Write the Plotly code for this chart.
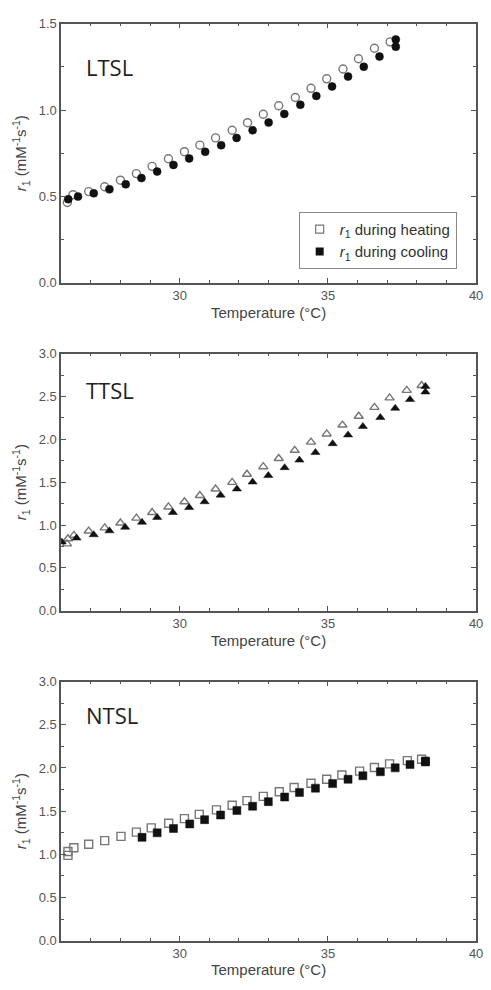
import plotly.graph_objects as go

# ---------------- data ----------------
ltsl_heat_T = [26.21, 26.4, 26.93, 27.47, 28.0, 28.54, 29.07, 29.62, 30.16, 30.68, 31.21, 31.77,
               32.29, 32.82, 33.34, 33.9, 34.43, 34.96, 35.51, 36.03, 36.57, 37.1]
ltsl_heat_r = [0.465, 0.51, 0.528, 0.556, 0.594, 0.632, 0.674, 0.718, 0.759, 0.797, 0.839, 0.883,
               0.927, 0.976, 1.025, 1.073, 1.126, 1.181, 1.238, 1.297, 1.358, 1.395]
ltsl_cool_T = [37.29, 37.29, 36.74, 36.21, 35.68, 35.14, 34.61, 34.07, 33.53, 33.0, 32.46, 31.92,
               31.4, 30.86, 30.32, 29.79, 29.24, 28.71, 28.18, 27.63, 27.1, 26.57, 26.24]
ltsl_cool_r = [1.409, 1.367, 1.31, 1.251, 1.194, 1.137, 1.082, 1.031, 0.978, 0.928, 0.883, 0.839,
               0.796, 0.758, 0.72, 0.682, 0.644, 0.606, 0.57, 0.541, 0.518, 0.499, 0.484]

ttsl_heat_T = [26.2, 26.23, 26.43, 26.93, 27.47, 28.0, 28.54, 29.07, 29.62, 30.16, 30.68, 31.21,
               31.77, 32.27, 32.82, 33.34, 33.88, 34.43, 34.96, 35.49, 36.04, 36.57, 37.08, 37.66, 38.16]
ttsl_heat_r = [0.78, 0.84, 0.88, 0.93, 0.967, 1.024, 1.081, 1.146, 1.211, 1.272, 1.345, 1.421,
               1.498, 1.593, 1.681, 1.777, 1.872, 1.968, 2.063, 2.167, 2.27, 2.373, 2.484, 2.572, 2.629]
ttsl_cool_T = [38.29, 38.29, 37.77, 37.27, 36.77, 36.18, 35.68, 35.16, 34.58, 34.04, 33.54, 32.99,
               32.46, 31.93, 31.38, 30.84, 30.32, 29.77, 29.24, 28.73, 28.16, 27.63, 27.1, 26.52, 26.02]
ttsl_cool_r = [2.618, 2.553, 2.465, 2.362, 2.255, 2.151, 2.052, 1.949, 1.846, 1.758, 1.67, 1.578,
               1.502, 1.421, 1.349, 1.272, 1.204, 1.146, 1.089, 1.032, 0.974, 0.932, 0.887, 0.848, 0.802]

ntsl_heat_T = [26.23, 26.23, 26.43, 26.93, 27.47, 28.02, 28.54, 29.04, 29.63, 30.16, 30.66, 31.24,
               31.77, 32.27, 32.82, 33.36, 33.86, 34.43, 34.96, 35.47, 36.07, 36.57, 37.08, 37.68, 38.16]
ntsl_heat_r = [0.987, 1.033, 1.075, 1.117, 1.158, 1.208, 1.257, 1.306, 1.36, 1.413, 1.462, 1.515,
               1.568, 1.622, 1.671, 1.724, 1.774, 1.823, 1.869, 1.918, 1.963, 2.005, 2.047, 2.085, 2.1]
ntsl_cool_T = [38.29, 38.29, 37.77, 37.27, 36.77, 36.18, 35.68, 35.16, 34.58, 34.04, 33.54, 32.99,
               32.46, 31.93, 31.38, 30.84, 30.34, 29.79, 29.24, 28.73]
ntsl_cool_r = [2.081, 2.07, 2.039, 2.001, 1.956, 1.91, 1.869, 1.819, 1.766, 1.717, 1.663, 1.61,
               1.557, 1.508, 1.455, 1.401, 1.352, 1.299, 1.249, 1.196]

panel_names = ["LTSL", "TTSL", "NTSL"]
legend_labels = ["<i>r</i><sub>1</sub> during heating", "<i>r</i><sub>1</sub> during cooling"]
x_title = "Temperature (°C)"
y_title = "<i>r</i><sub>1</sub> (mM<sup>-1</sup>s<sup>-1</sup>)"

# ---------------- figure ----------------
W, H = 491, 990
fig = go.Figure()

panels = [
    (ltsl_heat_T, ltsl_heat_r, ltsl_cool_T, ltsl_cool_r, "circle", [0, 1.5], (17, 280), 61),
    (ttsl_heat_T, ttsl_heat_r, ttsl_cool_T, ttsl_cool_r, "triangle-up", [0, 3.0], (352, 613), 389),
    (ntsl_heat_T, ntsl_heat_r, ntsl_cool_T, ntsl_cool_r, "square", [0, 3.0], (685, 948), 719),
]

axis_color = "#555555"
tick_font = dict(family="Liberation Sans, Arial", size=13, color="#555555")
title_font = dict(family="Liberation Sans, Arial", size=15, color="#444444")

for i, (hT, hr, cT, cr, sym, yr, (top, bot), label_y) in enumerate(panels):
    n = "" if i == 0 else str(i + 1)
    xa, ya = "x" + n, "y" + n
    msize = 8
    fig.add_trace(go.Scatter(
        x=hT, y=hr, mode="markers", xaxis=xa, yaxis=ya, showlegend=False,
        marker=dict(symbol=sym + "-open", size=msize, color="#777777", line=dict(width=1.4, color="#777777"))))
    fig.add_trace(go.Scatter(
        x=cT, y=cr, mode="markers", xaxis=xa, yaxis=ya, showlegend=False,
        marker=dict(symbol=sym, size=msize, color="#111111", line=dict(width=0.5, color="#111111"))))

    ydom = [1 - bot / H, 1 - top / H]
    common = dict(showline=True, linecolor=axis_color, linewidth=1.5, mirror="ticks",
                  ticks="inside", ticklen=5, tickwidth=1.2, tickcolor=axis_color,
                  showgrid=False, zeroline=False, tickfont=tick_font)
    fig.layout["xaxis" + n] = dict(
        domain=[62 / W, 483 / W], anchor=ya, range=[26, 40], tick0=0, dtick=5,
        minor=dict(dtick=1, ticks="inside", ticklen=3, tickcolor=axis_color, showgrid=False),
        title=dict(text=x_title, font=title_font, standoff=5), **common)
    fig.layout["yaxis" + n] = dict(
        domain=ydom, anchor=xa, range=yr, dtick=0.5, tickformat=".1f",
        minor=dict(dtick=0.25, ticks="inside", ticklen=3, tickcolor=axis_color, showgrid=False),
        title=dict(text=y_title, font=title_font, standoff=8), **common)

    fig.add_annotation(
        text=panel_names[i], xref="paper", yref="paper",
        x=85 / W, y=1 - label_y / H,
        xanchor="left", yanchor="middle", showarrow=False,
        font=dict(family="Open Sans", size=22, color="#222222"))

# legend entries (squares, as in the original legend)
fig.add_trace(go.Scatter(x=[None], y=[None], mode="markers", name=legend_labels[0],
                         marker=dict(symbol="square-open", size=8, color="#777777",
                                     line=dict(width=1.2, color="#777777"))))
fig.add_trace(go.Scatter(x=[None], y=[None], mode="markers", name=legend_labels[1],
                         marker=dict(symbol="square", size=8, color="#111111")))

fig.update_layout(
    width=W, height=H, margin=dict(l=0, r=0, t=0, b=0),
    paper_bgcolor="white", plot_bgcolor="white",
    legend=dict(x=303 / W, y=1 - 208 / H, xanchor="left", yanchor="top",
                bordercolor="#888888", borderwidth=1, bgcolor="white",
                font=dict(family="Liberation Sans, Arial", size=15, color="#333333"),
                itemwidth=30, tracegroupgap=0),
)

fig.write_html("out.html")
